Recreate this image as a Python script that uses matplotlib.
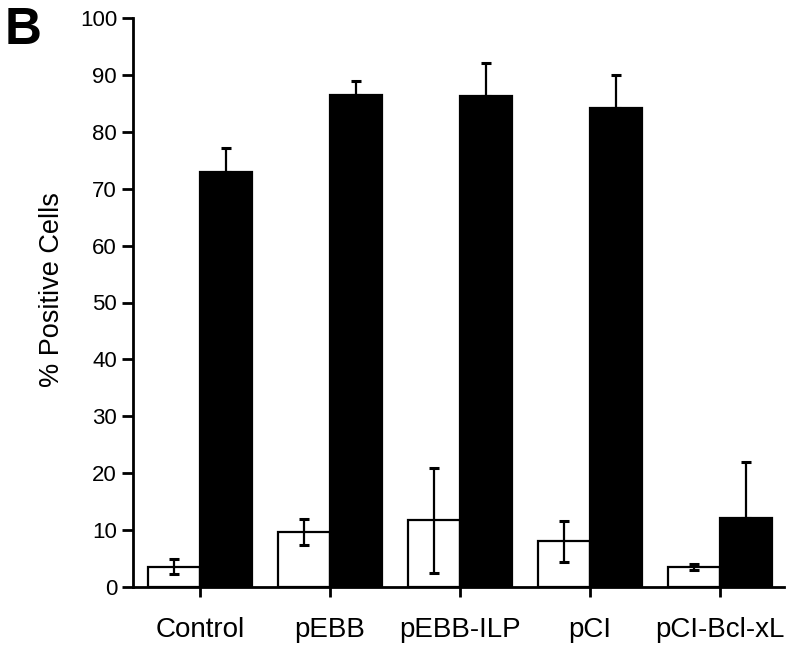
import matplotlib
matplotlib.use("Agg")
import matplotlib.pyplot as plt
import numpy as np

plt.rcParams['font.family'] = ['Liberation Sans', 'DejaVu Sans']

categories = ["Control", "pEBB", "pEBB-ILP", "pCI", "pCI-Bcl-xL"]
white_vals = [3.6, 9.6, 11.7, 8.0, 3.5]
white_err = [1.3, 2.3, 9.3, 3.6, 0.5]
black_vals = [72.9, 86.5, 86.3, 84.1, 12.2]
black_err = [4.2, 2.4, 5.8, 5.8, 9.7]

fig = plt.figure(figsize=(8, 6.6), dpi=100)
ax = fig.add_axes([133/800, 73/660, (784-133)/800, (587-18)/660])

x = np.arange(len(categories))
w = 0.4
ax.bar(x - w/2, white_vals, w, color='white', edgecolor='black', linewidth=1.6, zorder=2)
ax.bar(x + w/2, black_vals, w, color='black', edgecolor='black', linewidth=1.6, zorder=2)
ax.errorbar(x - w/2, white_vals, yerr=white_err, fmt='none', ecolor='black',
            elinewidth=1.6, capsize=3.8, capthick=2.2, zorder=3)
ax.errorbar(x + w/2, black_vals, yerr=[np.zeros(len(black_err)), black_err], fmt='none',
            ecolor='black', elinewidth=1.6, capsize=3.8, capthick=2.2, zorder=3)

ax.set_ylim(0, 100)
ax.set_xlim(-0.515, 4.49)
ax.set_yticks(np.arange(0, 101, 10))
ax.set_xticks(x)
ax.set_xticklabels(categories)
ax.tick_params(axis='y', direction='out', length=8, width=2, labelsize=16, pad=3.5)
ax.tick_params(axis='x', direction='out', length=7.5, width=2, labelsize=20, pad=14)
for s in ['top', 'right']:
    ax.spines[s].set_visible(False)
for s in ['left', 'bottom']:
    ax.spines[s].set_linewidth(2)

fig.text(52/800, 1 - 290/660, "% Positive Cells", fontsize=19.5, rotation=90,
         va='center', ha='center')
fig.text(5/800, 1 - 31/660, "B", fontsize=37, fontweight='bold', va='center', ha='left')

fig.savefig("out.png", dpi=100, facecolor='white')
